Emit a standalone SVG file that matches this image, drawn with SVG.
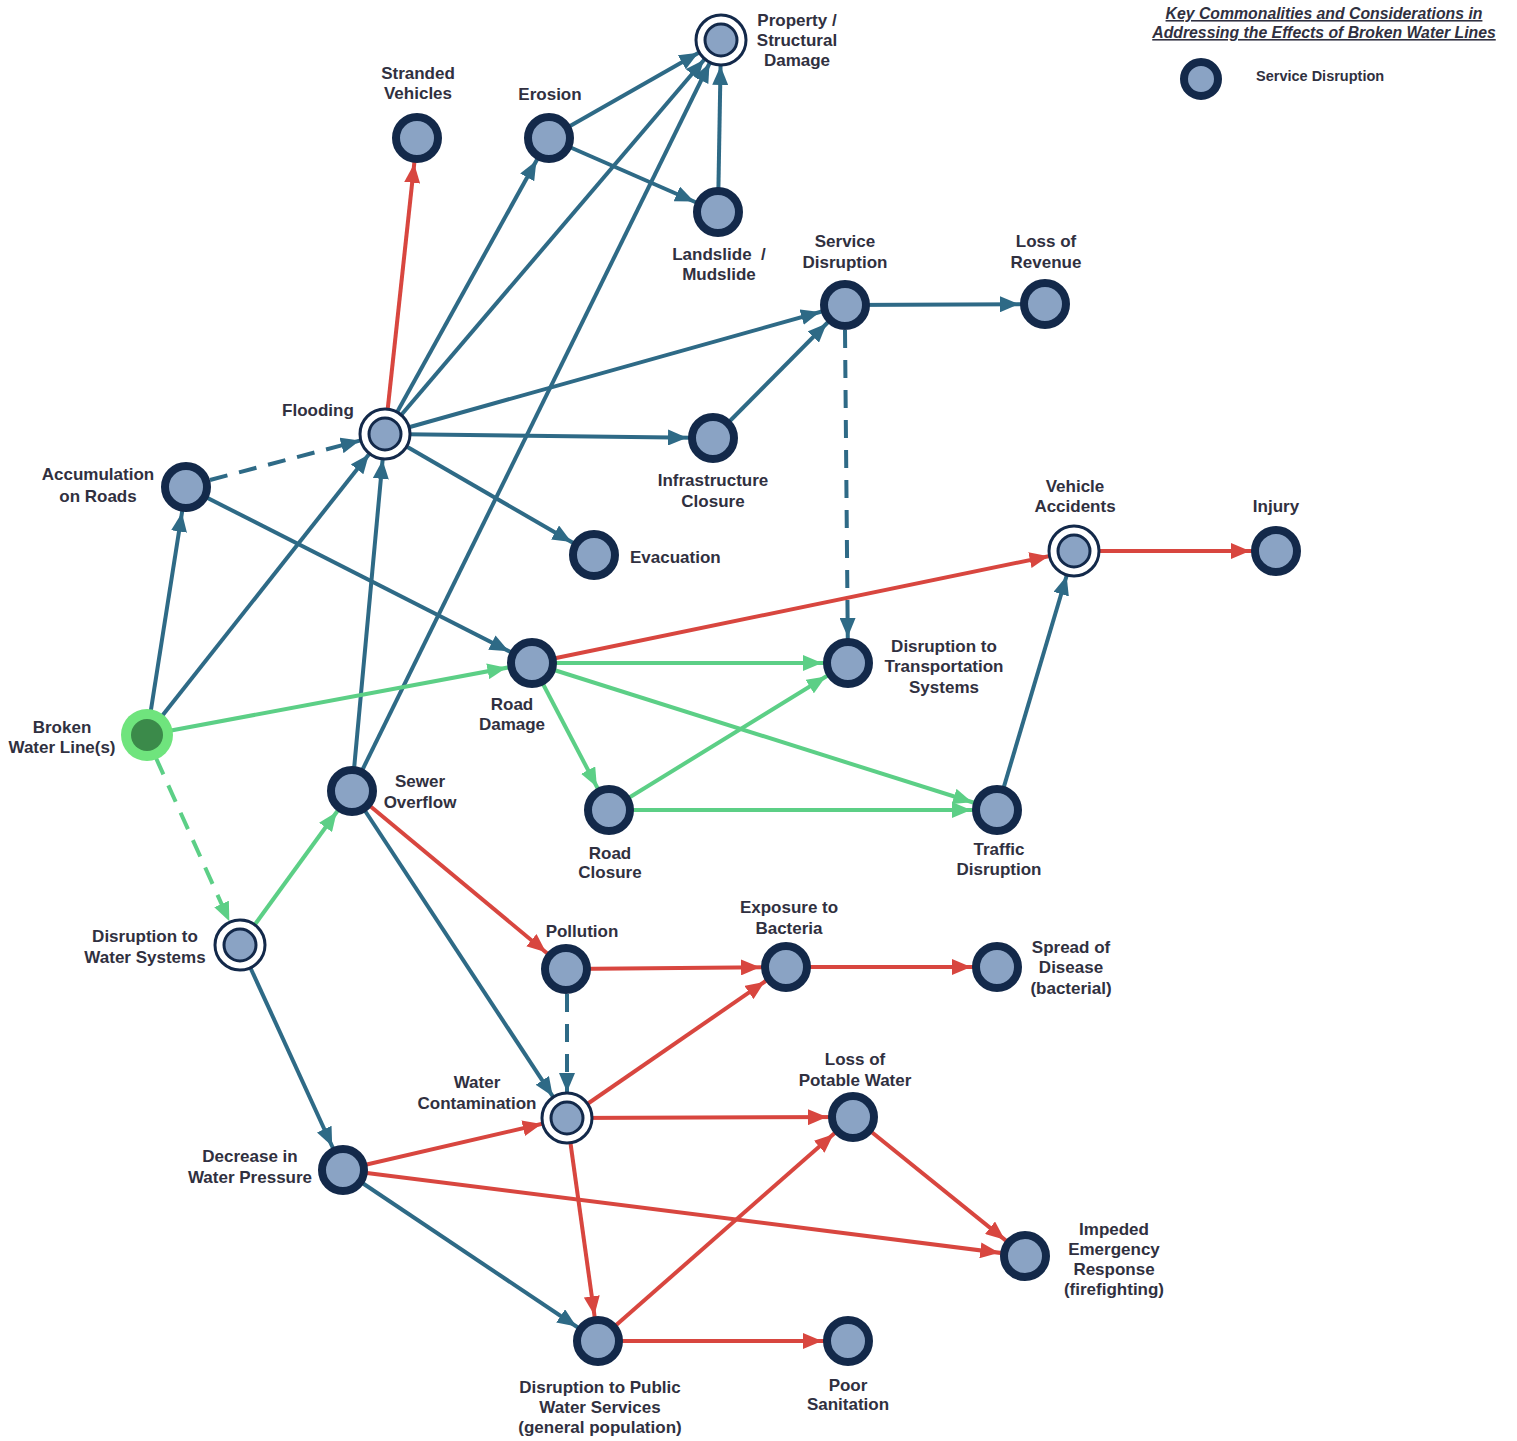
<svg xmlns="http://www.w3.org/2000/svg" width="1517" height="1441" viewBox="0 0 1517 1441">
<style>
.e{fill:none;stroke-width:4}
.b{stroke:#2e6a86}
.r{stroke:#d8463f}
.g{stroke:#5ccf86}
.d{stroke-dasharray:18 12}
.n{fill:#8aa3c4;stroke:#13294a;stroke-width:8}
.o{fill:#fff;stroke:#13294a;stroke-width:3}
.i{fill:#8aa3c4;stroke:#13294a;stroke-width:3}
text{font-family:"Liberation Sans",Arial,sans-serif;font-weight:bold;font-size:17px;fill:#303040;text-anchor:middle}
.s{text-anchor:start}
.t{font-style:italic;font-size:15.8px;text-decoration:underline}
.l{font-size:14.5px}
</style>
<defs>
<marker id="ab" markerUnits="userSpaceOnUse" markerWidth="20" markerHeight="16" refX="45" refY="8" orient="auto"><path d="M0,0 L19,8 L0,16 Z" fill="#2e6a86"/></marker>
<marker id="ar" markerUnits="userSpaceOnUse" markerWidth="20" markerHeight="16" refX="45" refY="8" orient="auto"><path d="M0,0 L19,8 L0,16 Z" fill="#d8463f"/></marker>
<marker id="ag" markerUnits="userSpaceOnUse" markerWidth="20" markerHeight="16" refX="45" refY="8" orient="auto"><path d="M0,0 L19,8 L0,16 Z" fill="#5ccf86"/></marker>
</defs>
<g id="connectors">
<g marker-end="url(#ab)">
<line class="e b" x1="549" y1="138" x2="721" y2="40"/>
<line class="e b" x1="549" y1="138" x2="718" y2="212"/>
<line class="e b" x1="718" y1="212" x2="721" y2="40"/>
<line class="e b" x1="385" y1="434" x2="549" y2="138"/>
<line class="e b" x1="385" y1="434" x2="721" y2="40"/>
<line class="e b" x1="385" y1="434" x2="845" y2="305"/>
<line class="e b" x1="385" y1="434" x2="713" y2="438"/>
<line class="e b" x1="385" y1="434" x2="594" y2="555"/>
<line class="e b" x1="713" y1="438" x2="845" y2="305"/>
<line class="e b" x1="845" y1="305" x2="1045" y2="304"/>
<line class="e b d" x1="845" y1="330" x2="848" y2="663"/>
<line class="e b d" x1="210" y1="480" x2="385" y2="434"/>
<line class="e b" x1="186" y1="487" x2="532" y2="663"/>
<line class="e b" x1="147" y1="735" x2="186" y2="487"/>
<line class="e b" x1="147" y1="735" x2="385" y2="434"/>
<line class="e b" x1="352" y1="791" x2="385" y2="434"/>
<line class="e b" x1="352" y1="791" x2="721" y2="40"/>
<line class="e b" x1="352" y1="791" x2="567" y2="1118"/>
<line class="e b" x1="997" y1="810" x2="1074" y2="551"/>
<line class="e b" x1="240" y1="945" x2="343" y2="1170"/>
<line class="e b" x1="343" y1="1170" x2="598" y2="1341"/>
<line class="e b d" x1="567" y1="994" x2="567" y2="1118"/>
</g>
<g marker-end="url(#ar)">
<line class="e r" x1="385" y1="434" x2="417" y2="138"/>
<line class="e r" x1="532" y1="663" x2="1074" y2="551"/>
<line class="e r" x1="1074" y1="551" x2="1276" y2="551"/>
<line class="e r" x1="352" y1="791" x2="566" y2="969"/>
<line class="e r" x1="566" y1="969" x2="786" y2="967"/>
<line class="e r" x1="786" y1="967" x2="997" y2="967"/>
<line class="e r" x1="567" y1="1118" x2="786" y2="967"/>
<line class="e r" x1="567" y1="1118" x2="853" y2="1117"/>
<line class="e r" x1="567" y1="1118" x2="598" y2="1341"/>
<line class="e r" x1="343" y1="1170" x2="567" y2="1118"/>
<line class="e r" x1="343" y1="1170" x2="1025" y2="1256"/>
<line class="e r" x1="853" y1="1117" x2="1025" y2="1256"/>
<line class="e r" x1="598" y1="1341" x2="853" y2="1117"/>
<line class="e r" x1="598" y1="1341" x2="848" y2="1341"/>
</g>
<g marker-end="url(#ag)">
<line class="e g" x1="147" y1="735" x2="532" y2="663"/>
<line class="e g d" x1="156" y1="758" x2="240" y2="945"/>
<line class="e g" x1="240" y1="945" x2="352" y2="791"/>
<line class="e g" x1="532" y1="663" x2="848" y2="663"/>
<line class="e g" x1="532" y1="663" x2="609" y2="810"/>
<line class="e g" x1="532" y1="663" x2="997" y2="810"/>
<line class="e g" x1="609" y1="810" x2="848" y2="663"/>
<line class="e g" x1="609" y1="810" x2="997" y2="810"/>
</g>
</g>
<g id="legend">
<text class="t" x="1324" y="19">Key Commonalities and Considerations in</text>
<text class="t" x="1324" y="38">Addressing the Effects of Broken Water Lines</text>
<circle class="n" cx="1201" cy="79" r="17"/>
<text class="s l" x="1256" y="81">Service Disruption</text>
</g>
<g id="property"><circle class="o" cx="721" cy="40" r="25"/><circle class="i" cx="721" cy="40" r="16"/><text x="797" y="26">Property /</text><text x="797" y="46">Structural</text><text x="797" y="66">Damage</text></g>
<g id="stranded"><circle class="n" cx="417" cy="138" r="21"/><text x="418" y="79">Stranded</text><text x="418" y="99">Vehicles</text></g>
<g id="erosion"><circle class="n" cx="549" cy="138" r="21"/><text x="550" y="100">Erosion</text></g>
<g id="landslide"><circle class="n" cx="718" cy="212" r="21"/><text x="719" y="260">Landslide&#160;&#160;/</text><text x="719" y="280">Mudslide</text></g>
<g id="service"><circle class="n" cx="845" cy="305" r="21"/><text x="845" y="247">Service</text><text x="845" y="268">Disruption</text></g>
<g id="revenue"><circle class="n" cx="1045" cy="304" r="21"/><text x="1046" y="247">Loss of</text><text x="1046" y="268">Revenue</text></g>
<g id="flooding"><circle class="o" cx="385" cy="434" r="25"/><circle class="i" cx="385" cy="434" r="16"/><text x="318" y="416">Flooding</text></g>
<g id="accumulation"><circle class="n" cx="186" cy="487" r="21"/><text x="98" y="480">Accumulation</text><text x="98" y="502">on Roads</text></g>
<g id="infrastructure"><circle class="n" cx="713" cy="438" r="21"/><text x="713" y="486">Infrastructure</text><text x="713" y="507">Closure</text></g>
<g id="evacuation"><circle class="n" cx="594" cy="555" r="21"/><text class="s" x="630" y="563">Evacuation</text></g>
<g id="accidents"><circle class="o" cx="1074" cy="551" r="25"/><circle class="i" cx="1074" cy="551" r="16"/><text x="1075" y="492">Vehicle</text><text x="1075" y="512">Accidents</text></g>
<g id="injury"><circle class="n" cx="1276" cy="551" r="21"/><text x="1276" y="512">Injury</text></g>
<g id="transport"><circle class="n" cx="848" cy="663" r="21"/><text x="944" y="652">Disruption to</text><text x="944" y="672">Transportation</text><text x="944" y="693">Systems</text></g>
<g id="roaddamage"><circle class="n" cx="532" cy="663" r="21"/><text x="512" y="710">Road</text><text x="512" y="730">Damage</text></g>
<g id="broken"><circle cx="147" cy="735" r="26" fill="#6fe47d"/><circle cx="147" cy="735" r="16" fill="#3b8a4a"/><text x="62" y="733">Broken</text><text x="62" y="753">Water Line(s)</text></g>
<g id="sewer"><circle class="n" cx="352" cy="791" r="21"/><text x="420" y="787">Sewer</text><text x="420" y="808">Overflow</text></g>
<g id="roadclosure"><circle class="n" cx="609" cy="810" r="21"/><text x="610" y="859">Road</text><text x="610" y="878">Closure</text></g>
<g id="traffic"><circle class="n" cx="997" cy="810" r="21"/><text x="999" y="855">Traffic</text><text x="999" y="875">Disruption</text></g>
<g id="watersystems"><circle class="o" cx="240" cy="945" r="25"/><circle class="i" cx="240" cy="945" r="16"/><text x="145" y="942">Disruption to</text><text x="145" y="963">Water Systems</text></g>
<g id="pollution"><circle class="n" cx="566" cy="969" r="21"/><text x="582" y="937">Pollution</text></g>
<g id="exposure"><circle class="n" cx="786" cy="967" r="21"/><text x="789" y="913">Exposure to</text><text x="789" y="934">Bacteria</text></g>
<g id="disease"><circle class="n" cx="997" cy="967" r="21"/><text x="1071" y="953">Spread of</text><text x="1071" y="973">Disease</text><text x="1071" y="994">(bacterial)</text></g>
<g id="contamination"><circle class="o" cx="567" cy="1118" r="25"/><circle class="i" cx="567" cy="1118" r="16"/><text x="477" y="1088">Water</text><text x="477" y="1109">Contamination</text></g>
<g id="potable"><circle class="n" cx="853" cy="1117" r="21"/><text x="855" y="1065">Loss of</text><text x="855" y="1086">Potable Water</text></g>
<g id="pressure"><circle class="n" cx="343" cy="1170" r="21"/><text x="250" y="1162">Decrease in</text><text x="250" y="1183">Water Pressure</text></g>
<g id="emergency"><circle class="n" cx="1025" cy="1256" r="21"/><text x="1114" y="1235">Impeded</text><text x="1114" y="1255">Emergency</text><text x="1114" y="1275">Response</text><text x="1114" y="1295">(firefighting)</text></g>
<g id="public"><circle class="n" cx="598" cy="1341" r="21"/><text x="600" y="1393">Disruption to Public</text><text x="600" y="1413">Water Services</text><text x="600" y="1433">(general population)</text></g>
<g id="sanitation"><circle class="n" cx="848" cy="1341" r="21"/><text x="848" y="1391">Poor</text><text x="848" y="1410">Sanitation</text></g>
</svg>
